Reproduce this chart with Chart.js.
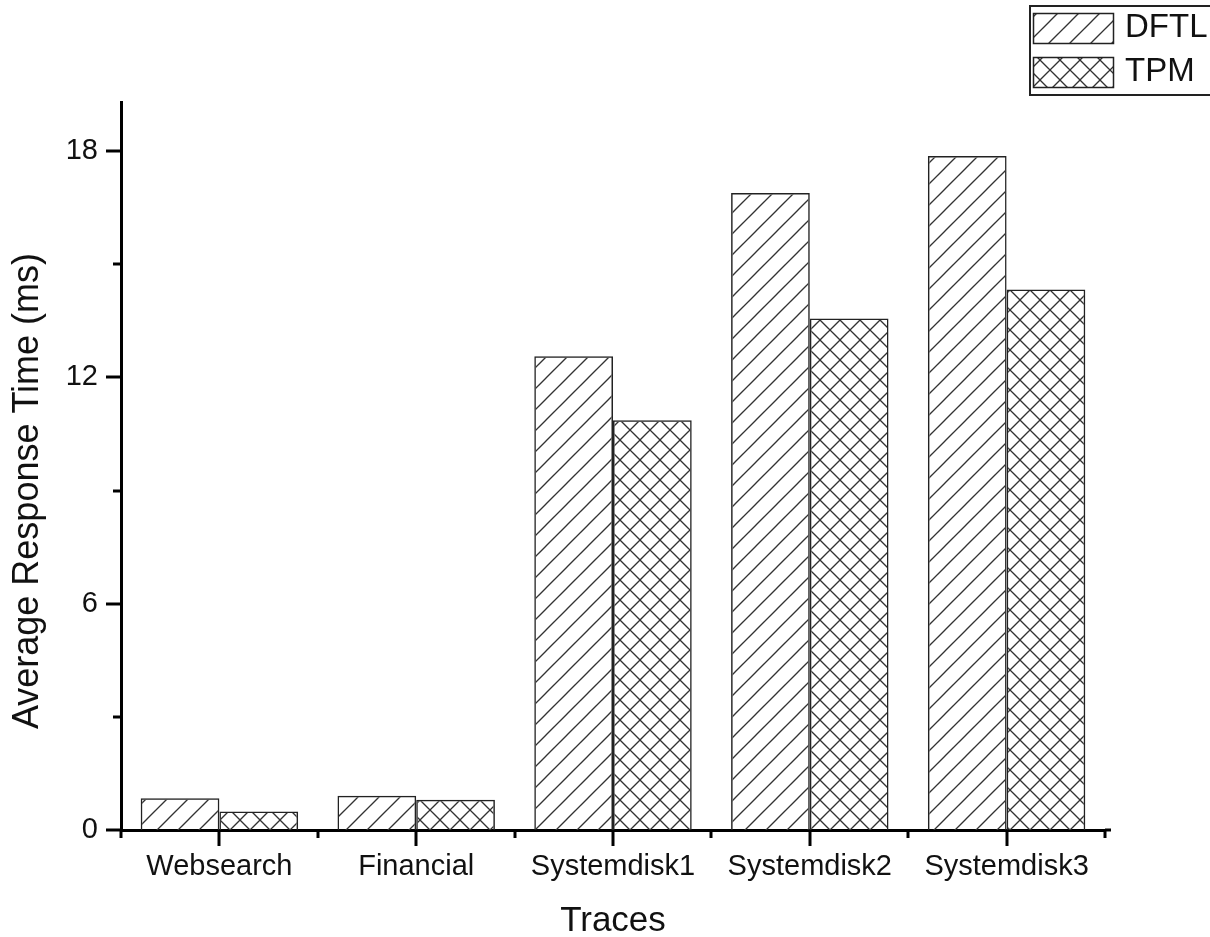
<!DOCTYPE html>
<html>
<head>
<meta charset="utf-8">
<script src="https://cdn.jsdelivr.net/npm/chart.js@4.4.1/dist/chart.umd.min.js"></script>
<style>
  html, body { margin: 0; padding: 0; background: #fff; overflow: hidden; }
  #wrap { width: 1210px; height: 937px; }
</style>
</head>
<body>
<div id="wrap"><canvas id="grafica"></canvas></div>
<script>
var categorias = ['Websearch', 'Financial', 'Systemdisk1', 'Systemdisk2', 'Systemdisk3'];
var datosDFTL = [0.84, 0.91, 12.56, 16.89, 17.87];
var datosTPM = [0.49, 0.80, 10.86, 13.56, 14.33];
var ticksMayores = [0, 6, 12, 18];
var ticksMenores = [3, 9, 15];
var nombres = ['DFTL', 'TPM'];

var fuente = 'Liberation Sans, Arial, sans-serif';

// patrones de rayado
function rayado(tam, cruzado){
    var c = document.createElement('canvas');
    c.width = tam; c.height = tam;
    var g = c.getContext('2d');
    g.strokeStyle = '#333';
    g.lineWidth = 1.3;
    function linea(x1, y1, x2, y2){ g.beginPath(); g.moveTo(x1, y1); g.lineTo(x2, y2); g.stroke(); }
    linea(-2, tam + 2, tam + 2, -2);
    linea(-2, 2, 2, -2);
    linea(tam - 2, tam + 2, tam + 2, tam - 2);
    if(cruzado){
        linea(-2, -2, tam + 2, tam + 2);
        linea(tam - 2, -2, tam + 2, 2);
        linea(-2, tam - 2, 2, tam + 2);
    }
    return g.createPattern(c, 'repeat');
}
var patronDFTL = rayado(21, false);
var patronTPM = rayado(20, true);
var patrones = [patronDFTL, patronTPM];

var marcas = {
    id: 'marcas',
    afterDraw(chart){
        var ctx = chart.ctx;
        var x = chart.scales.x, y = chart.scales.y;
        var a = chart.chartArea;
        ctx.save();
        ctx.strokeStyle = '#000';
        ctx.lineWidth = 3;
        ticksMayores.forEach(v => {
            var py = Math.round(y.getPixelForValue(v));
            ctx.beginPath(); ctx.moveTo(a.left - 15, py); ctx.lineTo(a.left, py); ctx.stroke();
        });
        ticksMenores.forEach(v => {
            var py = Math.round(y.getPixelForValue(v));
            ctx.beginPath(); ctx.moveTo(a.left - 8, py); ctx.lineTo(a.left, py); ctx.stroke();
        });
        categorias.forEach((c, i) => {
            var px = Math.round(x.getPixelForValue(i));
            ctx.beginPath(); ctx.moveTo(px, a.bottom); ctx.lineTo(px, a.bottom + 16); ctx.stroke();
        });
        for(var i = 0; i <= categorias.length; i++){
            var px = Math.round(x.getPixelForValue(i - 0.5));
            ctx.beginPath(); ctx.moveTo(px, a.bottom); ctx.lineTo(px, a.bottom + 8); ctx.stroke();
        }
        ctx.beginPath(); ctx.moveTo(a.right, a.bottom); ctx.lineTo(a.right + 6, a.bottom); ctx.stroke();

        // leyenda
        ctx.lineWidth = 2;
        ctx.strokeStyle = '#222';
        ctx.strokeRect(1030, 6, 200, 89);
        ctx.font = '33px ' + fuente;
        ctx.textBaseline = 'middle';
        ctx.textAlign = 'left';
        nombres.forEach((n, i) => {
            var top = 13 + i * 44;
            ctx.fillStyle = patrones[i];
            ctx.fillRect(1033, top, 80, 30);
            ctx.lineWidth = 1.5;
            ctx.strokeStyle = '#222';
            ctx.strokeRect(1033.5, top + 0.5, 80, 30);
            ctx.fillStyle = '#111';
            ctx.fillText(n, 1125, top + 15);
        });
        ctx.restore();
    }
};

new Chart(document.getElementById('grafica'), {
    type: 'bar',
    data: {
        labels: categorias,
        datasets: [
            { label: nombres[0], data: datosDFTL, backgroundColor: patronDFTL, borderColor: '#222', borderWidth: 1.5 },
            { label: nombres[1], data: datosTPM, backgroundColor: patronTPM, borderColor: '#222', borderWidth: 1.5 }
        ]
    },
    options: {
        responsive: true,
        maintainAspectRatio: false,
        animation: false,
        layout: { padding: { left: 0, top: 102, right: 105, bottom: 0 } },
        datasets: { bar: { categoryPercentage: 0.8, barPercentage: 1.0 } },
        plugins: { legend: { display: false }, tooltip: { enabled: false } },
        scales: {
            x: {
                afterFit(scale){ scale.height = 107; },
                grid: { display: false, drawTicks: false },
                border: { display: true, color: '#000', width: 3 },
                ticks: { color: '#111', padding: 20, font: { family: fuente, size: 29 } },
                title: { display: true, text: 'Traces', color: '#111', padding: { top: 0, bottom: -5 }, font: { family: fuente, size: 35 } }
            },
            y: {
                min: 0,
                max: 19.3,
                afterFit(scale){ scale.width = 121; },
                grid: { display: false, drawTicks: false },
                border: { display: true, color: '#000', width: 3 },
                ticks: {
                    stepSize: 3,
                    includeBounds: false,
                    color: '#111',
                    padding: 23,
                    font: { family: fuente, size: 29 },
                    callback: function(v){ return ticksMayores.indexOf(v) >= 0 ? v : ''; }
                },
                title: { display: true, text: 'Average Response Time (ms)     ', color: '#111', padding: { top: 6, bottom: 0 }, font: { family: fuente, size: 36 } }
            }
        }
    },
    plugins: [marcas]
});
</script>
</body>
</html>
